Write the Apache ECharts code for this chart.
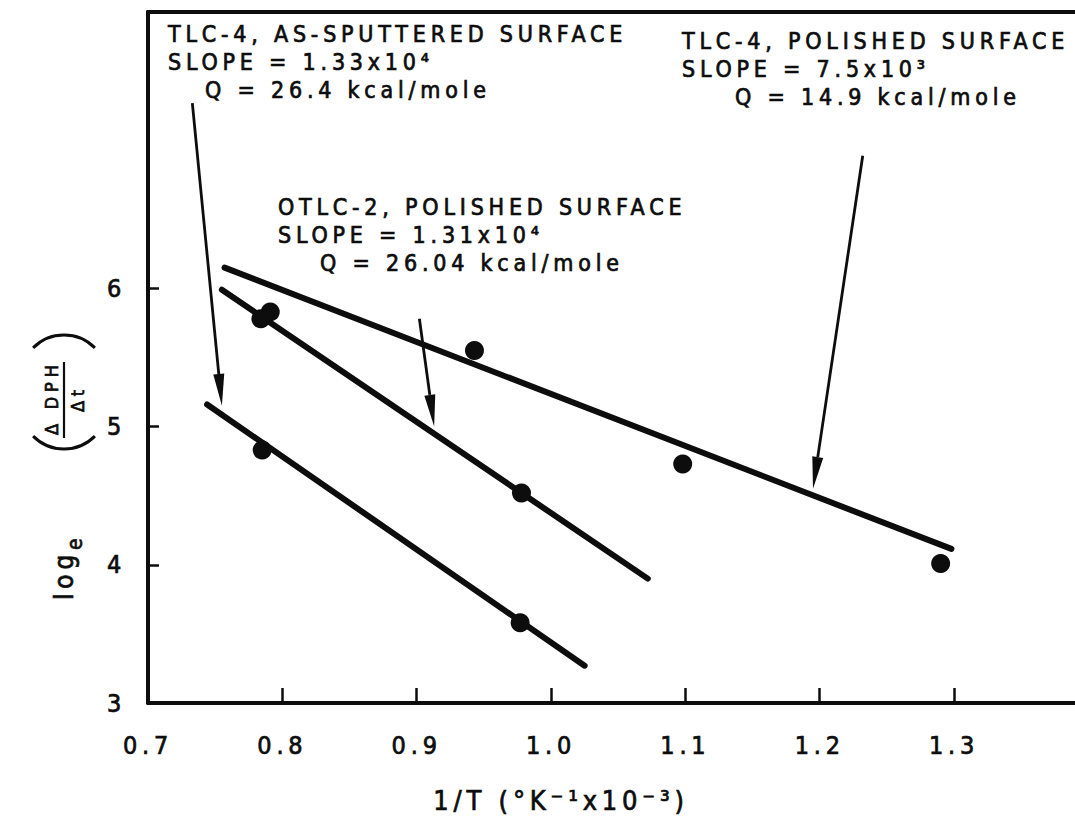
<!DOCTYPE html>
<html>
<head>
<meta charset="utf-8">
<script src="https://cdn.jsdelivr.net/npm/echarts@6/dist/echarts.min.js"></script>
<style>
  html, body { margin: 0; padding: 0; background: #ffffff; }
  #chart { width: 1075px; height: 825px; }
  /* narrow, spaced-out lettering with a slightly heavier stroke */
  #chart text {
    letter-spacing: 4.8px;
    stroke: #0d0d0d !important;
    stroke-width: 0.7px !important;
    paint-order: stroke;
  }
</style>
</head>
<body>
<div id="chart"></div>
<script>
// ---- axis ticks ----
const xTickLabels = [0.7, 0.8, 0.9, 1.0, 1.1, 1.2, 1.3];
const xTickMarks = [0.8, 0.9, 1.0, 1.1, 1.2, 1.3];
const yTickLabels = [3, 4, 5, 6];
const yTickMarks = [4, 5, 6];

// ---- TLC-4, as-sputtered surface ----
const sputteredPoints = [[0.785, 4.83], [0.977, 3.58]];
const sputteredFit = [[0.744, 5.16], [1.025, 3.27]];

// ---- OTLC-2, polished surface ----
const otlcPoints = [[0.791, 5.83], [0.784, 5.78], [0.978, 4.52]];
const otlcFit = [[0.755, 5.99], [1.072, 3.90]];

// ---- TLC-4, polished surface ----
const polishedPoints = [[0.943, 5.55], [1.098, 4.73], [1.29, 4.01]];
const polishedFit = [[0.757, 6.15], [1.298, 4.115]];

// ---- pointer arrows: [x1, y1, x2, y2] (tail -> head) ----
const arrowSputtered = [0.733, 7.34, 0.755, 5.15];
const arrowOtlc = [0.902, 5.78, 0.913, 5.00];
const arrowPolished = [1.232, 6.96, 1.195, 4.55];

// ---- annotation text ----
const noteSputtered = ['TLC-4, AS-SPUTTERED SURFACE', 'SLOPE = 1.33x10⁴', 'Q = 26.4 kcal/mole'];
const notePolished = ['TLC-4, POLISHED SURFACE', 'SLOPE = 7.5x10³', 'Q = 14.9 kcal/mole'];
const noteOtlc = ['OTLC-2, POLISHED SURFACE', 'SLOPE = 1.31x10⁴', 'Q = 26.04 kcal/mole'];
const xTitle = '1/T (°K⁻¹x10⁻³)';

const INK = '#0d0d0d';
const FONT = "'DejaVu Sans Condensed', 'DejaVu Sans', sans-serif";

const chart = echarts.init(document.getElementById('chart'), null, { renderer: 'svg' });

function noteBlock(lines, x, ys, indent) {
  return lines.map((t, i) => ({
    type: 'text',
    x: i === 2 ? x + indent : x,
    y: ys[i],
    style: { text: t, fill: INK, font: '23px ' + FONT, textVerticalAlign: 'middle', textAlign: 'left' }
  }));
}

function arrowItem(params, api) {
  const p1 = api.coord([api.value(0), api.value(1)]);
  const p2 = api.coord([api.value(2), api.value(3)]);
  const dx = p2[0] - p1[0], dy = p2[1] - p1[1];
  const len = Math.hypot(dx, dy);
  const ux = dx / len, uy = dy / len;
  const headLen = 32, headHalf = 5.5;
  const bx = p2[0] - ux * headLen, by = p2[1] - uy * headLen;
  return {
    type: 'group',
    children: [
      { type: 'line', shape: { x1: p1[0], y1: p1[1], x2: bx, y2: by },
        style: { stroke: INK, lineWidth: 2.8 } },
      { type: 'polygon',
        shape: { points: [[p2[0], p2[1]], [bx - uy * headHalf, by + ux * headHalf], [bx + uy * headHalf, by - ux * headHalf]] },
        style: { fill: INK } }
    ]
  };
}

const fitLine = (data) => ({
  type: 'line', data, symbol: 'none', silent: true,
  lineStyle: { color: INK, width: 6, cap: 'round', opacity: 1 }, z: 3
});
const dots = (data) => ({
  type: 'scatter', data, symbol: 'circle', symbolSize: 19,
  itemStyle: { color: INK, opacity: 1 }, z: 4
});

// rotated y-axis title: log_e ( Δ DPH / Δt )
const yTitle = {
  type: 'group',
  x: 64, y: 600,
  rotation: Math.PI / 2,
  children: [
    { type: 'text', x: 0, y: 0, style: { text: 'log', fill: INK, font: '26px ' + FONT, textVerticalAlign: 'middle' } },
    { type: 'text', x: 50, y: 11, style: { text: 'e', fill: INK, font: '21px ' + FONT, textVerticalAlign: 'middle' } },
    { type: 'arc', shape: { cx: 151 + 43.5, cy: 0, r: 43.5, startAngle: Math.PI - 0.79, endAngle: Math.PI + 0.79, clockwise: true },
      style: { stroke: INK, lineWidth: 3, fill: null } },
    { type: 'text', x: 165, y: -13, style: { text: 'Δ DPH', fill: INK, font: '18px ' + FONT, textVerticalAlign: 'middle' } },
    { type: 'line', shape: { x1: 162, y1: 0, x2: 238, y2: 0 }, style: { stroke: INK, lineWidth: 2.2 } },
    { type: 'text', x: 188, y: 13, style: { text: 'Δt', fill: INK, font: '18px ' + FONT, textVerticalAlign: 'middle' } },
    { type: 'arc', shape: { cx: 265 - 43.5, cy: 0, r: 43.5, startAngle: -0.79, endAngle: 0.79, clockwise: true },
      style: { stroke: INK, lineWidth: 3, fill: null } }
  ]
};

const option = {
  backgroundColor: '#ffffff',
  animation: false,
  grid: { left: 148, right: 0, top: 12, bottom: 122, containLabel: false, outerBoundsMode: 'none' },
  xAxis: [
    {
      type: 'value', min: 0.7, max: 1.39, interval: 0.1, position: 'bottom',
      axisLine: { show: true, onZero: false, lineStyle: { color: INK, width: 4 } },
      axisTick: { show: true, inside: true, length: 15, customValues: xTickMarks, lineStyle: { color: INK, width: 2.5 } },
      axisLabel: { customValues: xTickLabels, margin: 30, fontSize: 25, fontFamily: FONT, color: INK,
                   formatter: (v) => v.toFixed(1) },
      splitLine: { show: false }
    },
    {
      type: 'value', min: 0.7, max: 1.39, position: 'top',
      axisLine: { show: true, onZero: false, lineStyle: { color: INK, width: 4 } },
      axisTick: { show: false }, axisLabel: { show: false }, splitLine: { show: false }
    }
  ],
  yAxis: {
    type: 'value', min: 3, max: 8, interval: 1,
    axisLine: { show: true, onZero: false, lineStyle: { color: INK, width: 4 } },
    axisTick: { show: true, inside: true, length: 11, customValues: yTickMarks, lineStyle: { color: INK, width: 2.5 } },
    axisLabel: { customValues: yTickLabels, margin: 22, fontSize: 25, fontFamily: FONT, color: INK },
    splitLine: { show: false }
  },
  series: [
    fitLine(sputteredFit),
    fitLine(otlcFit),
    fitLine(polishedFit),
    dots(sputteredPoints),
    dots(otlcPoints),
    dots(polishedPoints),
    {
      type: 'custom', renderItem: arrowItem, silent: true, z: 5,
      data: [arrowSputtered, arrowOtlc, arrowPolished]
    }
  ],
  graphic: [
    ...noteBlock(noteSputtered, 168, [34, 62, 90], 37),
    ...noteBlock(notePolished, 682, [41, 69, 97], 53),
    ...noteBlock(noteOtlc, 278, [207, 235, 263], 42),
    { type: 'text', x: 561, y: 800,
      style: { text: xTitle, fill: INK, font: '27px ' + FONT, textAlign: 'center', textVerticalAlign: 'middle' } },
    yTitle
  ]
};

chart.setOption(option);
</script>
</body>
</html>
